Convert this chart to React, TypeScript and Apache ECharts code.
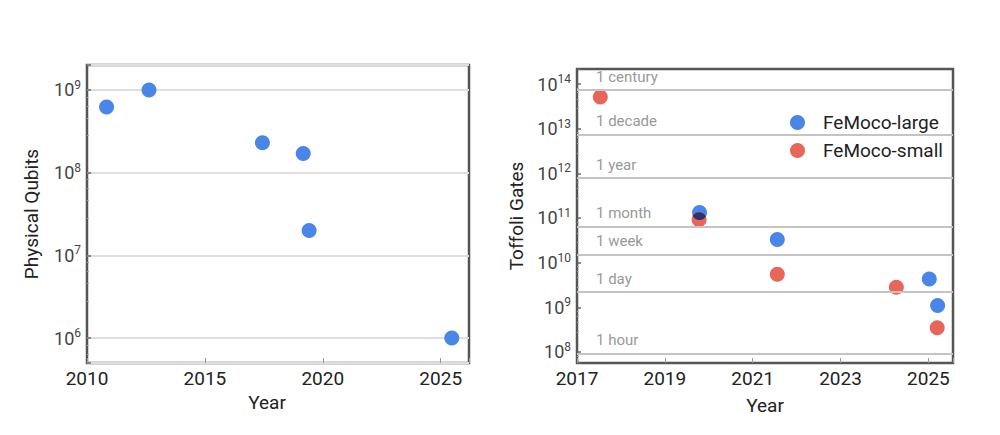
import React, { useEffect, useRef } from "react";
import * as echarts from "echarts";

// Left panel: physical qubits over time
const qubitYears = [2010.83, 2012.63, 2017.44, 2019.17, 2019.42, 2025.47];
const qubitCounts = [6.2e8, 1e9, 2.3e8, 1.7e8, 2e7, 1e6];

// Right panel: Toffoli gates over time
const largeYears = [2019.79, 2021.56, 2025.02, 2025.21];
const largeGates = [1.33e11, 3.3e10, 4.3e9, 1.1e9];
const smallYears = [2017.53, 2019.78, 2021.56, 2024.27, 2025.2];
const smallGates = [5.1e13, 9.1e10, 5.5e9, 2.8e9, 3.5e8];

// Runtime reference lines (gate counts)
const timeLabels = ["1 hour", "1 day", "1 week", "1 month", "1 year", "1 decade", "1 century"];
const timeGates = [9.2e7, 2.18e9, 1.5e10, 6.4e10, 7.8e11, 7.5e12, 7.3e13];

const BLUE = "#4a86e8";
const RED = "#e8655a";
const OVERLAP = "#3b2d63";
const FONT = "Roboto, 'Open Sans', sans-serif";

const logLabel = (v: number) => {
  const e = Math.log10(v);
  if (Math.abs(e - Math.round(e)) > 1e-6) return "";
  return `{b|10}{s|${Math.round(e)}}`;
};

const richLabel = {
  b: { fontSize: 18, color: "#444", lineHeight: 22, fontFamily: FONT },
  s: { fontSize: 12, color: "#444", lineHeight: 12, verticalAlign: "top", fontFamily: FONT },
};

function lensPoints(c1: number[], c2: number[], r: number) {
  const dx = c2[0] - c1[0];
  const dy = c2[1] - c1[1];
  const d = Math.sqrt(dx * dx + dy * dy);
  if (d >= 2 * r || d === 0) return [];
  const a = Math.acos(d / (2 * r));
  const t12 = Math.atan2(dy, dx);
  const t21 = t12 + Math.PI;
  const pts: number[][] = [];
  const n = 20;
  for (let i = 0; i <= n; i++) {
    const t = t12 - a + (2 * a * i) / n;
    pts.push([c1[0] + r * Math.cos(t), c1[1] + r * Math.sin(t)]);
  }
  for (let i = 0; i <= n; i++) {
    const t = t21 - a + (2 * a * i) / n;
    pts.push([c2[0] + r * Math.cos(t), c2[1] + r * Math.sin(t)]);
  }
  return pts;
}

export default function App() {
  const ref = useRef<HTMLDivElement>(null);
  useEffect(() => {
    if (!ref.current) return;
    const chart = echarts.init(ref.current, undefined, { renderer: "svg" });
    const gridCommon = {
      show: true,
      borderColor: "#555",
      borderWidth: 2.5,
      backgroundColor: "transparent",
    };
    const xCommon = {
      type: "value",
      nameLocation: "middle",
      nameTextStyle: { fontSize: 19, color: "#222", fontFamily: FONT },
      splitLine: { show: false },
      axisLine: { show: false },
      axisTick: { show: true, inside: true, length: 5, lineStyle: { color: "#999", width: 1 } },
    };
    const yCommon = {
      type: "log",
      logBase: 10,
      nameLocation: "middle",
      nameRotate: 90,
      nameTextStyle: { fontSize: 19, color: "#222", fontFamily: FONT },
      axisLine: { show: false },
      axisTick: { show: true, inside: true, length: 4, lineStyle: { color: "#666", width: 1.5 } },
      minorTick: { show: true, splitNumber: 5, length: 2, lineStyle: { color: "#aaa" } },
      axisLabel: { formatter: logLabel, rich: richLabel, margin: 6 },
    };
    const option: any = {
      animation: false,
      textStyle: { fontFamily: FONT },
      grid: [
        { ...gridCommon, left: 87, top: 65, width: 382, height: 298 },
        { ...gridCommon, left: 577, top: 69, width: 376, height: 294 },
      ],
      legend: {
        data: ["FeMoco-large", "FeMoco-small"],
        orient: "vertical",
        left: 785,
        top: 108,
        icon: "circle",
        itemWidth: 15,
        itemHeight: 15,
        itemGap: 9,
        textStyle: { fontSize: 19, color: "#222", padding: [0, 0, 0, 13], fontFamily: FONT },
      },
      xAxis: [
        {
          ...xCommon,
          gridIndex: 0,
          min: 2010,
          max: 2026.2,
          interval: 5,
          name: "Year",
          nameGap: 30,
          nameTextStyle: { ...xCommon.nameTextStyle, padding: [0, 22, 0, 0] },
          axisLabel: {
            fontSize: 19,
            color: "#222",
            margin: 6,
            formatter: (v: number) => (Math.abs(v % 5) < 1e-6 ? String(v) : ""),
          },
        },
        {
          ...xCommon,
          gridIndex: 1,
          min: 2017,
          max: 2025.56,
          interval: 2,
          name: "Year",
          nameGap: 33,
          axisLabel: {
            fontSize: 19,
            color: "#222",
            margin: 6,
            formatter: (v: number) => (Math.abs((v - 2017) % 2) < 1e-6 ? String(v) : ""),
          },
        },
      ],
      yAxis: [
        {
          ...yCommon,
          gridIndex: 0,
          min: 4.99e5,
          max: 2.0e9,
          name: "Physical Qubits",
          nameGap: 46,
          splitLine: { show: true, lineStyle: { color: "#dedede", width: 2 } },
        },
        {
          ...yCommon,
          gridIndex: 1,
          min: 5.66e7,
          max: 2.17e14,
          name: "Toffoli Gates",
          nameGap: 51,
          splitLine: { show: false },
        },
      ],
      series: [
        {
          name: "Physical Qubits",
          type: "scatter",
          xAxisIndex: 0,
          yAxisIndex: 0,
          symbolSize: 15,
          itemStyle: { color: BLUE, opacity: 1 },
          data: qubitYears.map((x, i) => [x, qubitCounts[i]]),
        },
        {
          name: "FeMoco-small",
          type: "scatter",
          xAxisIndex: 1,
          yAxisIndex: 1,
          symbolSize: 15,
          itemStyle: { color: RED, opacity: 1 },
          data: smallYears.map((x, i) => [x, smallGates[i]]),
          markLine: {
            silent: true,
            symbol: "none",
            lineStyle: { color: "#c4c4c4", width: 2, type: "solid" },
            label: {
              show: true,
              position: "insideStartTop",
              formatter: "{b}",
              color: "#999",
              fontSize: 15,
              fontFamily: FONT,
              distance: [19, 6],
            },
            data: timeGates.map((g, i) => ({ yAxis: g, name: timeLabels[i] })),
          },
          z: 3,
        },
        {
          name: "FeMoco-large",
          type: "scatter",
          xAxisIndex: 1,
          yAxisIndex: 1,
          symbolSize: 15,
          itemStyle: { color: BLUE, opacity: 1 },
          data: largeYears.map((x, i) => [x, largeGates[i]]),
          z: 3,
        },
        {
          name: "overlap",
          type: "custom",
          xAxisIndex: 1,
          yAxisIndex: 1,
          silent: true,
          z: 4,
          data: [[largeYears[0], largeGates[0], smallYears[1], smallGates[1]]],
          renderItem: (params: any, api: any) => {
            const c1 = api.coord([api.value(0), api.value(1)]);
            const c2 = api.coord([api.value(2), api.value(3)]);
            const pts = lensPoints(c1, c2, 7.5);
            if (!pts.length) return null;
            return {
              type: "polygon",
              shape: { points: pts },
              style: { fill: OVERLAP },
            };
          },
        },
      ],
    };
    chart.setOption(option);
    return () => chart.dispose();
  }, []);
  return (
    <div
      ref={ref}
      style={{ position: "fixed", left: 0, top: 0, width: 1000, height: 435, background: "#fff" }}
    />
  );
}
